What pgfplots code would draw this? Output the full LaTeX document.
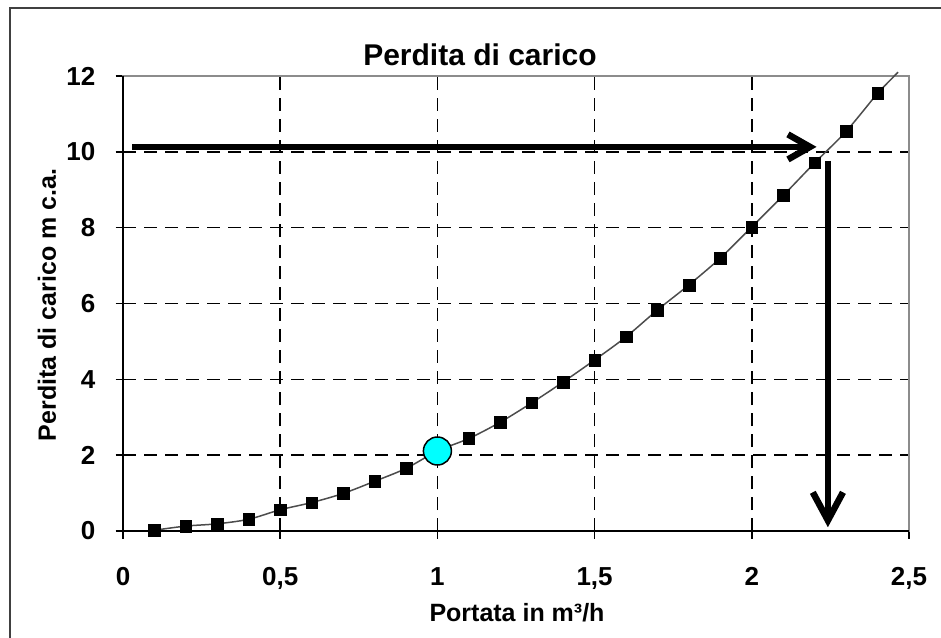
\documentclass[border=0pt]{standalone}
\usepackage{pgfplots}
\pgfplotsset{compat=1.18}
\usepackage{fontspec}
\setmainfont{Liberation Sans}
\definecolor{pcyan}{RGB}{0,255,255}
\pgfplotstableread{
x y
0.1 0.02
0.2 0.13
0.3 0.19
0.4 0.31
0.5 0.56
0.6 0.75
0.7 0.99
0.8 1.31
0.9 1.65
1.0 2.11
1.1 2.44
1.2 2.87
1.3 3.38
1.4 3.93
1.5 4.51
1.6 5.12
1.7 5.83
1.8 6.49
1.9 7.20
2.0 8.02
2.1 8.85
2.2 9.71
2.3 10.54
2.4 11.55
}\datatable
\begin{document}
\begin{tikzpicture}[x=1pt,y=1pt]
\useasboundingbox (0,0) rectangle (941,637);
\draw[line width=2pt, black!75] (10,-5) -- (10,629) -- (946,629);
\node[anchor=base, font=\fontsize{30}{36}\selectfont\bfseries] at (480,571) {Perdita di carico};
\node[anchor=base, font=\fontsize{25}{30}\selectfont\bfseries] at (517,16) {Portata in m³/h};
\node[rotate=90, font=\fontsize{25}{30}\selectfont\bfseries] at (47,332) {Perdita di carico m c.a.};
\begin{axis}[
  at={(123pt,106pt)}, anchor=south west,
  scale only axis, width=786pt, height=455pt,
  xmin=0, xmax=2.5, ymin=0, ymax=12,
  xtick={0,0.5,1,1.5,2,2.5},
  xticklabels={0,{0,5},1,{1,5},2,{2,5}},
  ytick={0,2,4,6,8,10,12},
  tick pos=left, tick align=center,
  major tick length=15pt,
  major tick style={black, line width=1.5pt},
  axis line style={draw=black!45, line width=1.5pt},
  grid=major,
  major grid style={black, line width=1.5pt, dash pattern=on 13pt off 8pt},
  /pgf/number format/assume math mode=true,
  ticklabel style={font=\fontsize{26}{30}\selectfont\bfseries},
  yticklabel style={anchor=east, inner sep=0pt, xshift=-20pt},
  xticklabel style={anchor=north, inner sep=0pt, yshift=-29pt},
  clip=false,
]
\draw[black, line width=2pt] (rel axis cs:0,1) -- (rel axis cs:0,0) -- (rel axis cs:1,0);
\addplot[smooth, line width=1.5pt, black!70, no marks] table[x=x,y=y] {\datatable} -- (axis cs:2.465,12.1);
\addplot[only marks, mark=square*, mark size=5.8pt, black] table[x=x,y=y] {\datatable};
\addplot[only marks, mark=*, mark size=14pt, mark options={fill=pcyan, draw=black, line width=1.5pt}] coordinates {(1,2.11)};
% horizontal arrow
\draw[line width=6pt] (axis cs:0.029,10.13) -- (axis cs:2.17,10.13);
\draw[line width=6.5pt, line join=miter, miter limit=10] (axis cs:2.115,10.46) -- (axis cs:2.185,10.13) -- (axis cs:2.115,9.80);
% vertical arrow
\draw[line width=6pt] (axis cs:2.242,9.76) -- (axis cs:2.242,0.4);
\draw[line width=6.5pt, line join=miter, miter limit=10] (axis cs:2.194,1.02) -- (axis cs:2.242,0.28) -- (axis cs:2.290,1.02);
\end{axis}
\end{tikzpicture}
\end{document}
